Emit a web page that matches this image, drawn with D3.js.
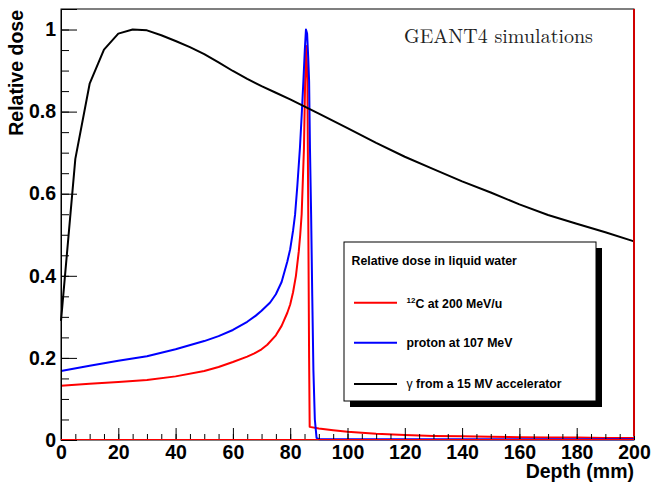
<!DOCTYPE html>
<html>
<head>
<meta charset="utf-8">
<script src="https://cdn.jsdelivr.net/npm/d3@7"></script>
<style>
  html, body { margin: 0; padding: 0; background: #fff; }
  svg { display: block; }
</style>
</head>
<body>
<svg id="chart" width="652" height="484"></svg>
<script>
// Depth-dose profiles in liquid water (depth in mm, dose relative to maximum)
const carbonDepth = [0, 10, 20, 30, 40, 50, 55, 60, 65, 67.5, 70, 72, 75, 77, 79, 80, 81, 82, 83, 83.5, 84, 84.8, 85.2, 85.6, 86.0, 86.3, 86.6, 86.8, 90, 95, 100, 110, 120, 130, 140, 150, 160, 170, 180, 190, 200];
const carbonDose  = [0.132, 0.137, 0.141, 0.146, 0.155, 0.168, 0.178, 0.19, 0.203, 0.211, 0.221, 0.232, 0.255, 0.278, 0.31, 0.33, 0.36, 0.40, 0.46, 0.50, 0.55, 0.71, 0.87, 0.96, 0.88, 0.55, 0.2, 0.032, 0.028, 0.024, 0.02, 0.015, 0.012, 0.010, 0.009, 0.008, 0.007, 0.006, 0.006, 0.005, 0.005];

const protonDepth = [0, 10, 20, 30, 40, 50, 55, 60, 65, 68, 70, 73, 75, 77, 79, 80, 81, 81.7, 82.5, 83.4, 84, 84.6, 85.1, 85.5, 85.9, 86.3, 86.6, 86.9, 87.3, 87.7, 88.1, 88.6, 89.2, 90, 200];
const protonDose  = [0.168, 0.181, 0.193, 0.204, 0.221, 0.241, 0.253, 0.268, 0.288, 0.303, 0.315, 0.335, 0.355, 0.385, 0.435, 0.465, 0.51, 0.549, 0.62, 0.712, 0.79, 0.874, 0.95, 1.0, 0.99, 0.93, 0.874, 0.71, 0.55, 0.35, 0.17, 0.05, 0.005, 0.002, 0.002];

const photonDepth = [0, 5, 10, 15, 20, 25, 30, 35, 40, 45, 50, 55, 60, 65, 70, 75, 80, 90, 100, 110, 120, 130, 140, 150, 160, 170, 180, 190, 200];
const photonDose  = [0.29, 0.685, 0.868, 0.951, 0.99, 1.0, 0.998, 0.986, 0.972, 0.957, 0.94, 0.92, 0.899, 0.88, 0.862, 0.846, 0.83, 0.795, 0.76, 0.724, 0.69, 0.66, 0.63, 0.603, 0.574, 0.548, 0.527, 0.506, 0.484];

const xMajorTicks = [0, 20, 40, 60, 80, 100, 120, 140, 160, 180, 200];
const yMajorTicks = [0, 0.2, 0.4, 0.6, 0.8, 1];
const yTickLabels = ["0", "0.2", "0.4", "0.6", "0.8", "1"];

const sans = "'Liberation Sans', Arial, Helvetica, sans-serif";
const serif = "'Latin Modern Roman', 'CMU Serif', 'Liberation Serif', 'DejaVu Serif', serif";

const svg = d3.select("#chart");
const frameLeft = 61, frameRight = 634, frameTop = 9, frameBottom = 440;

const x = d3.scaleLinear().domain([0, 200]).range([frameLeft, frameRight]);
const y = d3.scaleLinear().domain([0, 1.05]).range([frameBottom, frameTop]);

// frame
svg.append("rect")
  .attr("x", frameLeft).attr("y", frameTop)
  .attr("width", frameRight - frameLeft).attr("height", frameBottom - frameTop)
  .attr("fill", "none").attr("stroke", "#000").attr("stroke-width", 1);

// curves
const line = d3.line().x(d => x(d[0])).y(d => y(d[1]));
const series = [
  { depth: carbonDepth, dose: carbonDose, color: "#ff0000" },
  { depth: protonDepth, dose: protonDose, color: "#0000ff" },
  { depth: photonDepth, dose: photonDose, color: "#000000" }
];
series.forEach(s => {
  svg.append("path")
    .datum(d3.zip(s.depth, s.dose))
    .attr("d", line)
    .attr("fill", "none")
    .attr("stroke", s.color)
    .attr("stroke-width", 2)
    .attr("stroke-linejoin", "round");
});

// axes: ticks point into the frame
const xMinor = d3.range(0, 201, 5);
const yMinor = d3.range(0, 1.0001, 0.05);

const gxMinor = svg.append("g").attr("transform", `translate(0,${frameBottom})`)
  .call(d3.axisBottom(x).tickValues(xMinor).tickSize(-6).tickFormat(""));
const gx = svg.append("g").attr("transform", `translate(0,${frameBottom})`)
  .call(d3.axisBottom(x).tickValues(xMajorTicks).tickSize(-12).tickPadding(5).tickFormat(d3.format("d")));
const gyMinor = svg.append("g").attr("transform", `translate(${frameLeft},0)`)
  .call(d3.axisLeft(y).tickValues(yMinor).tickSize(-8).tickFormat(""));
const gy = svg.append("g").attr("transform", `translate(${frameLeft},0)`)
  .call(d3.axisLeft(y).tickValues(yMajorTicks).tickSize(-16).tickPadding(6)
    .tickFormat((d, i) => yTickLabels[i]));

[gxMinor, gx, gyMinor, gy].forEach(g => {
  g.select(".domain").attr("stroke", "#000").attr("stroke-width", 1);
  g.selectAll(".tick line").attr("stroke", "#000").attr("stroke-width", 1);
});
gxMinor.select(".domain").remove();
gyMinor.select(".domain").remove();
gx.select(".domain").remove();

// red outline of the carbon histogram along the bottom and right edges
svg.append("line").attr("x1", frameLeft).attr("x2", frameRight)
  .attr("y1", frameBottom - 0.5).attr("y2", frameBottom - 0.5)
  .attr("stroke", "#ff0000").attr("stroke-width", 1);
svg.append("line").attr("x1", frameRight).attr("x2", frameRight)
  .attr("y1", frameTop).attr("y2", frameBottom - 4)
  .attr("stroke", "#d00000").attr("stroke-width", 2);

gx.selectAll(".tick text")
  .style("font-family", sans)
  .attr("font-weight", "bold").attr("font-size", 19.5).attr("fill", "#000");
gy.selectAll(".tick text")
  .style("font-family", sans)
  .attr("font-weight", "bold").attr("font-size", 19.5).attr("fill", "#000")
  .attr("x", -5);

// axis titles
svg.append("text")
  .attr("x", frameRight).attr("y", 478)
  .attr("text-anchor", "end")
  .style("font-family", sans)
  .attr("font-weight", "bold").attr("font-size", 19.5)
  .text("Depth (mm)");
svg.append("text")
  .attr("transform", "translate(23,10) rotate(-90)")
  .attr("text-anchor", "end")
  .style("font-family", sans)
  .attr("font-weight", "bold").attr("font-size", 19.5)
  .text("Relative dose");

// annotation
svg.append("text")
  .attr("x", 404).attr("y", 43)
  .style("font-family", serif)
  .attr("font-size", 20)
  .attr("fill", "#222")
  .attr("textLength", 189).attr("lengthAdjust", "spacingAndGlyphs")
  .text("GEANT4 simulations");

// legend
const lg = { x: 344, y: 242, w: 252, h: 159, shadow: 6 };
svg.append("rect")
  .attr("x", lg.x + lg.shadow).attr("y", lg.y + lg.shadow)
  .attr("width", lg.w).attr("height", lg.h).attr("fill", "#000");
svg.append("rect")
  .attr("x", lg.x).attr("y", lg.y)
  .attr("width", lg.w).attr("height", lg.h)
  .attr("fill", "#fff").attr("stroke", "#000").attr("stroke-width", 1);

svg.append("text")
  .attr("x", 351.5).attr("y", 264.5)
  .style("font-family", sans)
  .attr("font-weight", "bold").attr("font-size", 12.3)
  .text("Relative dose in liquid water");

const legendRows = [
  { color: "#ff0000", lineY: 302.7, textY: 307.5 },
  { color: "#0000ff", lineY: 342.7, textY: 346.8 },
  { color: "#000000", lineY: 384, textY: 388 }
];
legendRows.forEach(r => {
  svg.append("line")
    .attr("x1", 354).attr("x2", 397)
    .attr("y1", r.lineY).attr("y2", r.lineY)
    .attr("stroke", r.color).attr("stroke-width", 2);
});

const t1 = svg.append("text").attr("x", 406.5).attr("y", legendRows[0].textY)
  .style("font-family", sans)
  .attr("font-weight", "bold").attr("font-size", 12.3);
t1.append("tspan").attr("font-size", 8).attr("dy", -5).text("12");
t1.append("tspan").attr("dy", 5).text("C at 200 MeV/u");

svg.append("text").attr("x", 406.5).attr("y", legendRows[1].textY)
  .style("font-family", sans)
  .attr("font-weight", "bold").attr("font-size", 12.3)
  .text("proton at 107 MeV");

const t3 = svg.append("text").attr("x", 406.5).attr("y", legendRows[2].textY)
  .style("font-family", sans)
  .attr("font-size", 12.3);
t3.append("tspan").attr("font-weight", "normal").text("γ");
t3.append("tspan").attr("font-weight", "bold").text(" from a 15 MV accelerator");
</script>
</body>
</html>
